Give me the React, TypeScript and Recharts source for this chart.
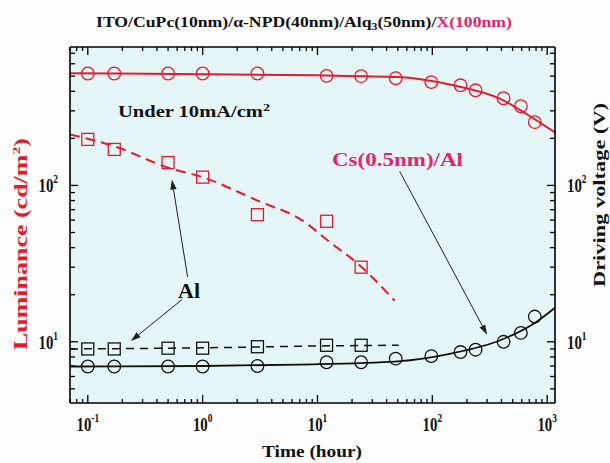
import React from 'react';
import {
  ComposedChart,
  Line,
  Scatter,
  XAxis,
  YAxis,
  CartesianGrid,
  ReferenceLine,
  Customized,
} from 'recharts';

// measured points (time in hours)
const csLumT = [0.1, 0.17, 0.5, 1, 3, 12, 24, 48, 98, 176, 238, 417, 590, 780];
const csLum = [520, 520, 520, 520, 520, 502, 500, 485, 458, 437, 406, 361, 321, 254];
const alLumT = [0.1, 0.17, 0.5, 1, 3, 12, 24];
const alLum = [197, 170, 140, 113, 65, 59, 30];
const csVolT = [0.1, 0.17, 0.5, 1, 3, 12, 24, 48, 98, 176, 238, 417, 590, 780];
const csVol = [6.95, 6.95, 6.95, 6.95, 7.0, 7.4, 7.4, 7.8, 8.1, 8.6, 8.9, 10.0, 11.4, 14.5];
const alVolT = [0.1, 0.17, 0.5, 1, 3, 12, 24];
const alVol = [9.0, 9.0, 9.1, 9.1, 9.3, 9.5, 9.5];

// fitted curves
const csLumFitT = [0.07, 1, 10, 50, 145, 400, 780, 1170];
const csLumFit = [522, 515, 506, 493, 440, 355, 265, 218];
const alLumFitT = [0.07, 0.17, 0.5, 1, 3, 7.3, 13, 22, 47];
const alLumFit = [212, 178, 130, 113, 80, 60, 43, 32, 18.3];
const csVolFitT = [0.07, 1, 7, 50, 145, 400, 780, 1170];
const csVolFit = [6.95, 7.0, 7.15, 7.5, 8.4, 10.3, 13.2, 16.5];
const alVolFitT = [0.07, 1, 10, 51];
const alVolFit = [9.0, 9.15, 9.4, 9.5];

const xDomain = [0.07, 1170];
const yDomain = [4.06, 768];
const xTicks = [
  0.07, 0.08, 0.09, 0.1, 0.2, 0.3, 0.4, 0.5, 0.6, 0.7, 0.8, 0.9,
  1, 2, 3, 4, 5, 6, 7, 8, 9, 10, 20, 30, 40, 50, 60, 70, 80, 90,
  100, 200, 300, 400, 500, 600, 700, 800, 900, 1000,
];
const yTicks = [5, 6, 7, 8, 9, 10, 20, 30, 40, 50, 60, 70, 80, 90, 100, 200, 300, 400, 500, 600, 700];

const RED = '#e8192c';
const PINK = '#e2266a';
const BG = '#e4f6f8';
const FONT = '"Liberation Serif", "Times New Roman", serif';

const pts = (ts: number[], vs: number[]) => ts.map((t, i) => ({ t, v: vs[i] }));

const isMajor = (v: number) => {
  const e = Math.log10(v);
  return Math.abs(e - Math.round(e)) < 1e-6;
};

const TickLabel = ({ x, y, v, anchor }: { x: number; y: number; v: number; anchor: string }) => (
  <g transform={`translate(${x},${y}) scale(0.78,1)`}>
    <text textAnchor={anchor} fontFamily={FONT} fontWeight="bold" fontSize={19} fill="#111">
      10
      <tspan dy={-9} fontSize={12}>{Math.round(Math.log10(v))}</tspan>
    </text>
  </g>
);

const BottomTick = (p: any) => {
  const major = isMajor(p.payload.value);
  return (
    <g>
      <line x1={p.x} x2={p.x} y1={p.y} y2={p.y - (major ? 8 : 4)} stroke="#000" strokeWidth={1.3} />
      {major && <TickLabel x={p.x} y={p.y + 28} v={p.payload.value} anchor="middle" />}
    </g>
  );
};

const TopTick = (p: any) => {
  const major = isMajor(p.payload.value);
  return <line x1={p.x} x2={p.x} y1={p.y} y2={p.y + (major ? 8 : 4)} stroke="#000" strokeWidth={1.3} />;
};

const LeftTick = (p: any) => {
  const v = p.payload.value;
  const major = isMajor(v);
  return (
    <g>
      <line x1={p.x} x2={p.x + (major ? 8 : 5)} y1={p.y} y2={p.y} stroke="#000" strokeWidth={1.3} />
      {major && <TickLabel x={p.x - 12} y={p.y + 7} v={v} anchor="end" />}
    </g>
  );
};

const RightTick = (p: any) => {
  const v = p.payload.value;
  const major = isMajor(v);
  return (
    <g>
      <line x1={p.x} x2={p.x - (major ? 8 : 5)} y1={p.y} y2={p.y} stroke="#000" strokeWidth={1.3} />
      {major && <TickLabel x={p.x + 12} y={p.y + 7} v={v} anchor="start" />}
    </g>
  );
};

const circleShape = (color: string) => (p: any) =>
  <circle cx={p.cx} cy={p.cy} r={6.3} fill="none" stroke={color} strokeWidth={1.3} />;

const squareShape = (color: string) => (p: any) =>
  <rect x={p.cx - 6} y={p.cy - 6} width={12} height={12} fill="none" stroke={color} strokeWidth={1.3} />;

const arrowShape = (p: any) => {
  const { x1, y1, x2, y2 } = p;
  const a = Math.atan2(y2 - y1, x2 - x1);
  const L = 10;
  const W = 3.2;
  const bx = x2 - L * Math.cos(a);
  const by = y2 - L * Math.sin(a);
  return (
    <g>
      <line x1={x1} y1={y1} x2={bx} y2={by} stroke="#222" strokeWidth={1} />
      <polygon
        points={`${x2},${y2} ${bx + W * Math.sin(a)},${by - W * Math.cos(a)} ${bx - W * Math.sin(a)},${by + W * Math.cos(a)}`}
        fill="#222"
      />
    </g>
  );
};

const Texts = () => (
  <g fontFamily={FONT} fontWeight="bold">
    <text x={96} y={27} fontSize={15} textLength={416} lengthAdjust="spacingAndGlyphs" fill="#111">
      ITO/CuPc(10nm)/α-NPD(40nm)/Alq
      <tspan fontSize={10} dy={3}>3</tspan>
      <tspan dy={-3}>(50nm)/</tspan>
      <tspan fill={PINK}>X(100nm)</tspan>
    </text>
    <text x={118} y={117} fontSize={16} textLength={152} lengthAdjust="spacingAndGlyphs" fill="#111">
      Under 10mA/cm<tspan dy={-6} fontSize={11}>2</tspan>
    </text>
    <text x={332} y={166} fontSize={19} textLength={131} lengthAdjust="spacingAndGlyphs" fill={PINK}>
      Cs(0.5nm)/Al
    </text>
    <text x={178} y={298} fontSize={21} textLength={22} lengthAdjust="spacingAndGlyphs" fill="#111">
      Al
    </text>
    <text x={312} y={457} fontSize={17} textAnchor="middle" textLength={100} lengthAdjust="spacingAndGlyphs" fill="#111">
      Time (hour)
    </text>
    <text
      transform="translate(27,244) rotate(-90)"
      fontSize={18}
      textAnchor="middle"
      textLength={212}
      lengthAdjust="spacingAndGlyphs"
      fill={RED}
    >
      Luminance (cd/m<tspan dy={-7} fontSize={11}>2</tspan>
      <tspan dy={7}>)</tspan>
    </text>
    <text
      transform="translate(605,195) rotate(-90)"
      fontSize={16}
      textAnchor="middle"
      textLength={184}
      lengthAdjust="spacingAndGlyphs"
      fill="#111"
    >
      Driving voltage (V)
    </text>
  </g>
);

const axisCommon = {
  type: 'number' as const,
  scale: 'log' as const,
  allowDataOverflow: true,
  interval: 0 as const,
  tickSize: 0,
  tickMargin: 0,
  tickLine: false,
  axisLine: { stroke: '#000', strokeWidth: 1.6 },
};

export default function App() {
  return (
    <div style={{ position: 'absolute', left: 0, top: 0, width: 610, height: 463, background: '#fdfdfd' }}>
      <ComposedChart width={610} height={463} margin={{ top: 17, right: 25, bottom: 30, left: 40 }}>
        <CartesianGrid fill={BG} horizontal={false} vertical={false} xAxisId="b" yAxisId="l" />
        <XAxis {...axisCommon} xAxisId="b" dataKey="t" domain={xDomain} ticks={xTicks} height={30} tick={BottomTick} />
        <XAxis {...axisCommon} xAxisId="t" orientation="top" dataKey="t" domain={xDomain} ticks={xTicks} height={30} tick={TopTick} />
        <YAxis {...axisCommon} yAxisId="l" dataKey="v" domain={yDomain} ticks={yTicks} width={30} tick={LeftTick} />
        <YAxis {...axisCommon} yAxisId="r" orientation="right" dataKey="v" domain={yDomain} ticks={yTicks} width={30} tick={RightTick} />

        <Line xAxisId="b" yAxisId="l" data={pts(csLumFitT, csLumFit)} dataKey="v" type="monotone"
          stroke={RED} strokeWidth={2} dot={false} isAnimationActive={false} />
        <Line xAxisId="b" yAxisId="l" data={pts(alLumFitT, alLumFit)} dataKey="v" type="monotone"
          stroke={RED} strokeWidth={2} strokeDasharray="10 6" dot={false} isAnimationActive={false} />
        <Line xAxisId="b" yAxisId="r" data={pts(csVolFitT, csVolFit)} dataKey="v" type="monotone"
          stroke="#111" strokeWidth={1.8} dot={false} isAnimationActive={false} />
        <Line xAxisId="b" yAxisId="r" data={pts(alVolFitT, alVolFit)} dataKey="v" type="monotone"
          stroke="#111" strokeWidth={1.5} strokeDasharray="8 6" dot={false} isAnimationActive={false} />

        <Scatter xAxisId="b" yAxisId="l" data={pts(csLumT, csLum)} shape={circleShape(RED)} isAnimationActive={false} />
        <Scatter xAxisId="b" yAxisId="l" data={pts(alLumT, alLum)} shape={squareShape(RED)} isAnimationActive={false} />
        <Scatter xAxisId="b" yAxisId="r" data={pts(csVolT, csVol)} shape={circleShape('#111')} isAnimationActive={false} />
        <Scatter xAxisId="b" yAxisId="r" data={pts(alVolT, alVol)} shape={squareShape('#111')} isAnimationActive={false} />

        <ReferenceLine xAxisId="b" yAxisId="l" segment={[{ x: 0.74, y: 26 }, { x: 0.54, y: 109 }]} shape={arrowShape} />
        <ReferenceLine xAxisId="b" yAxisId="l" segment={[{ x: 0.66, y: 18.6 }, { x: 0.237, y: 10.1 }]} shape={arrowShape} />
        <ReferenceLine xAxisId="b" yAxisId="l" segment={[{ x: 52, y: 123 }, { x: 300, y: 11.1 }]} shape={arrowShape} />

        <Customized component={Texts} />
      </ComposedChart>
    </div>
  );
}
